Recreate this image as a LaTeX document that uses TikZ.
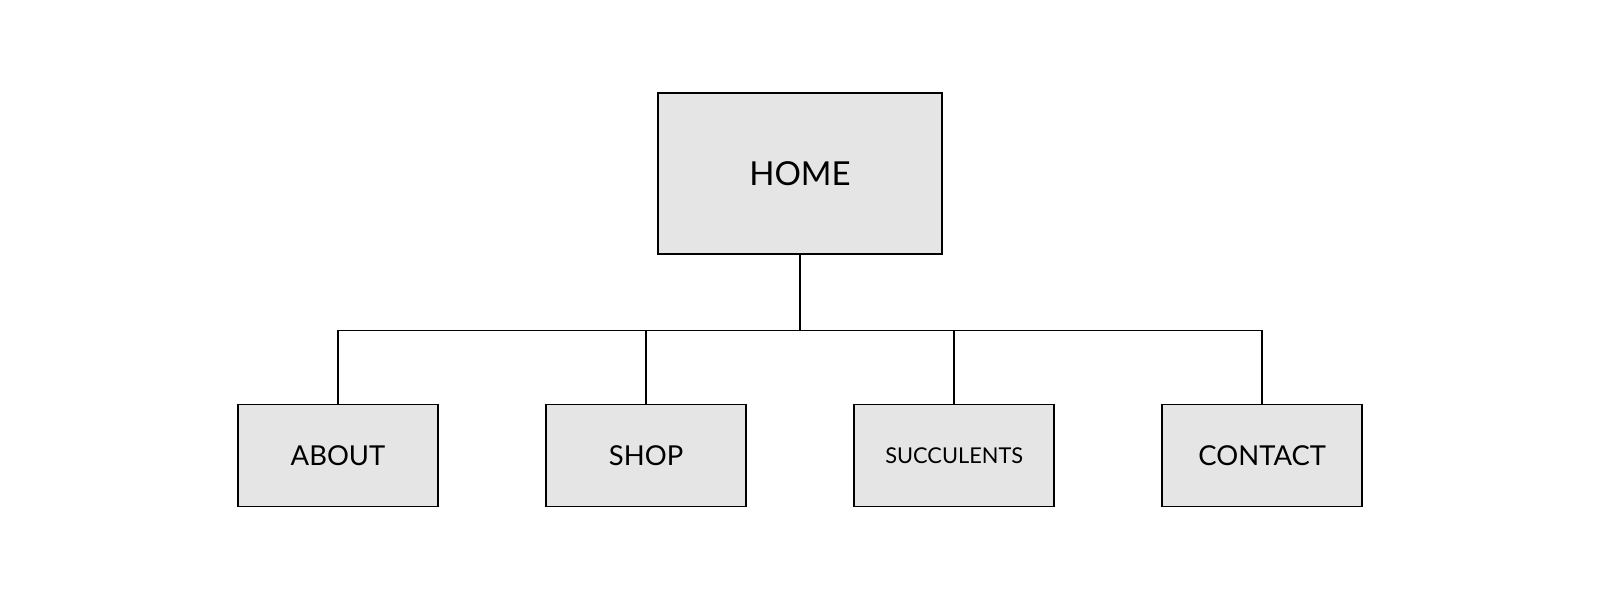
\documentclass[tikz,border=0pt]{standalone}
\usepackage{fontspec}
\setmainfont{Lato}
\usetikzlibrary{positioning}
\tikzset{
  page/.style={draw, fill=black!10, line width=1.2pt, align=center,
               minimum width=5cm, minimum height=2.55cm, font=\fontsize{19.5}{22}\selectfont},
  top/.style={minimum width=7.09cm, minimum height=4.03cm, font=\fontsize{23.5}{26}\selectfont},
  link/.style={line width=1.2pt},
}
\begin{document}
\begin{tikzpicture}[node distance=2.66cm]
  \useasboundingbox (0,0) rectangle (40,-15);
  \node[page,top] (home) at (20,-4.34) {HOME};
  \node[page] (about) at (8.45,-11.39) {ABOUT};
  \node[page,right=of about] (shop) {SHOP};
  \node[page,right=of shop,font=\fontsize{15.5}{18}\selectfont] (succ) {SUCCULENTS};
  \node[page,right=of succ] (contact) {CONTACT};
  % tree links
  \draw[link] (home.south) -- ++(0,-1.89) coordinate (bar);
  \draw[link] (bar) -| (about.north);
  \draw[link] (bar) -| (shop.north);
  \draw[link] (bar) -| (succ.north);
  \draw[link] (bar) -| (contact.north);
\end{tikzpicture}
\end{document}
